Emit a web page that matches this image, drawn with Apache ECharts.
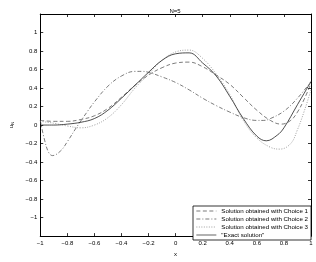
<!DOCTYPE html>
<html><head><meta charset="utf-8">
<script src="https://cdn.jsdelivr.net/npm/echarts@6/dist/echarts.min.js"></script>
<style>html,body{margin:0;padding:0;background:#fff}#c{width:316px;height:262px}</style>
</head><body><div id="c"></div>
<script>
const title = 'N=5';
const xTicks = [-1, -0.8, -0.6, -0.4, -0.2, 0, 0.2, 0.4, 0.6, 0.8, 1];
const yTicks = [-1, -0.8, -0.6, -0.4, -0.2, 0, 0.2, 0.4, 0.6, 0.8, 1];
const names = ['Solution obtained with Choice 1', 'Solution obtained with Choice 2', 'Solution obtained with Choice 3', '"Exact solution"'];

const choice1X = [-1, -0.9, -0.8, -0.7, -0.6, -0.5, -0.4, -0.3, -0.2, -0.1, 0, 0.1, 0.2, 0.3, 0.4, 0.5, 0.6, 0.7, 0.78, 0.85, 0.9, 0.95, 1];
const choice1Y = [0.05, 0.04, 0.04, 0.06, 0.10, 0.18, 0.30, 0.43, 0.54, 0.62, 0.67, 0.68, 0.63, 0.54, 0.44, 0.30, 0.16, 0.05, 0.01, 0.05, 0.14, 0.28, 0.45];

const choice2X = [-1, -0.97, -0.94, -0.91, -0.85, -0.8, -0.73, -0.65, -0.6, -0.5, -0.4, -0.3, -0.25, -0.2, -0.1, 0, 0.1, 0.2, 0.3, 0.4, 0.5, 0.6, 0.65, 0.7, 0.8, 0.9, 1];
const choice2Y = [0.05, -0.15, -0.29, -0.33, -0.28, -0.18, -0.02, 0.15, 0.25, 0.42, 0.53, 0.58, 0.58, 0.57, 0.52, 0.46, 0.38, 0.29, 0.21, 0.14, 0.08, 0.05, 0.05, 0.07, 0.15, 0.29, 0.47];

const choice3X = [-1, -0.9, -0.8, -0.7, -0.6, -0.5, -0.4, -0.3, -0.2, -0.1, 0, 0.1, 0.2, 0.3, 0.4, 0.5, 0.6, 0.7, 0.77, 0.85, 0.9, 0.95, 1];
const choice3Y = [0.04, 0.02, -0.01, -0.03, 0.0, 0.08, 0.22, 0.40, 0.55, 0.70, 0.79, 0.81, 0.72, 0.55, 0.33, 0.05, -0.14, -0.24, -0.26, -0.20, -0.05, 0.15, 0.38];

const exactX = [-1, -0.9, -0.8, -0.7, -0.6, -0.5, -0.4, -0.3, -0.2, -0.1, 0, 0.1, 0.2, 0.3, 0.4, 0.5, 0.6, 0.67, 0.75, 0.8, 0.9, 1];
const exactY = [0, 0.0, 0.01, 0.03, 0.07, 0.16, 0.29, 0.43, 0.57, 0.70, 0.77, 0.78, 0.67, 0.53, 0.31, 0.07, -0.12, -0.17, -0.11, -0.03, 0.22, 0.47];

function pairs(xs, ys){ return xs.map((x,i)=>[x, ys[i]]); }

const chart = echarts.init(document.getElementById('c'), null, {renderer:'canvas'});
const font = 'Liberation Sans, Arial, sans-serif';
const lbl = {fontSize: 6, color: '#000', fontFamily: font};
const axisLine = {show: true, onZero: false, lineStyle: {color: '#000', width: 1}};
const tick = {show: true, inside: true, length: 3, lineStyle: {color: '#000', width: 0.8}};
const fmt = v => { const r = Math.round(v*10)/10; if (Math.abs(r) > 1.05) return ''; return (r === 0 ? '0' : String(r).replace('-', '\u2212')); };

function mkSeries(name, xs, ys, type, color, width){
  return {name, type:'line', data: pairs(xs, ys), smooth: 0.4, symbol:'none', showSymbol:false,
    lineStyle:{color, width, type}, itemStyle:{color}, z: 3};
}

chart.setOption({
  animation: false,
  title: {text: title, left: 170, top: 3, textAlign: 'center', textStyle: {fontSize: 6, fontWeight: 'normal', color: '#000', fontFamily: font}},
  grid: {left: 29, right: 5, top: 14, bottom: 19, containLabel: false, show: false},
  xAxis: [
    {type:'value', min:-1, max:1, interval:0.2, position:'bottom', axisLine, axisTick: tick,
     axisLabel: Object.assign({formatter: fmt, margin: 4}, lbl), splitLine:{show:false},
     name: 'x', nameLocation:'middle', nameGap: 11, nameTextStyle: {fontSize: 6, color:'#000', fontFamily: font}},
    {type:'value', min:-1, max:1, interval:0.2, position:'top', axisLine, axisTick: tick, axisLabel:{show:false}, splitLine:{show:false}}
  ],
  yAxis: [
    {type:'value', min:-1.2, max:1.2, interval:0.2, position:'left', axisLine, axisTick: tick,
     axisLabel: Object.assign({formatter: fmt, margin: 3}, lbl), splitLine:{show:false},
     name: '{a|u}{b|N}', nameLocation:'middle', nameGap: 21, nameRotate: 90,
     nameTextStyle: {rich: {a:{fontSize: 6, color:'#000', fontFamily: font}, b:{fontSize: 4, color:'#000', fontFamily: font, verticalAlign:'bottom', padding:[3,0,0,0]}}}},
    {type:'value', min:-1.2, max:1.2, interval:0.2, position:'right', axisLine, axisTick: tick, axisLabel:{show:false}, splitLine:{show:false}}
  ],
  legend: {
    show: true,
    orient: 'vertical', left: 193, top: 206,
    itemWidth: 20, itemHeight: 6, itemGap: 2,
    padding: [2, 3, 2, 3],
    borderColor: '#000', borderWidth: 0.8, backgroundColor: '#fff',
    itemStyle: {opacity: 0},
    lineStyle: {width: 0.7},
    textStyle: {fontSize: 6.2, color: '#000', fontFamily: font},
    data: names,
    selectedMode: false
  },
  series: [
    mkSeries(names[0], choice1X, choice1Y, [4, 2.5], '#444', 0.7),
    mkSeries(names[1], choice2X, choice2Y, [4, 2, 1, 2], '#444', 0.7),
    mkSeries(names[2], choice3X, choice3Y, [1, 1.5], '#777', 0.7),
    mkSeries(names[3], exactX, exactY, 'solid', '#222', 0.8)
  ]
});
</script></body></html>
